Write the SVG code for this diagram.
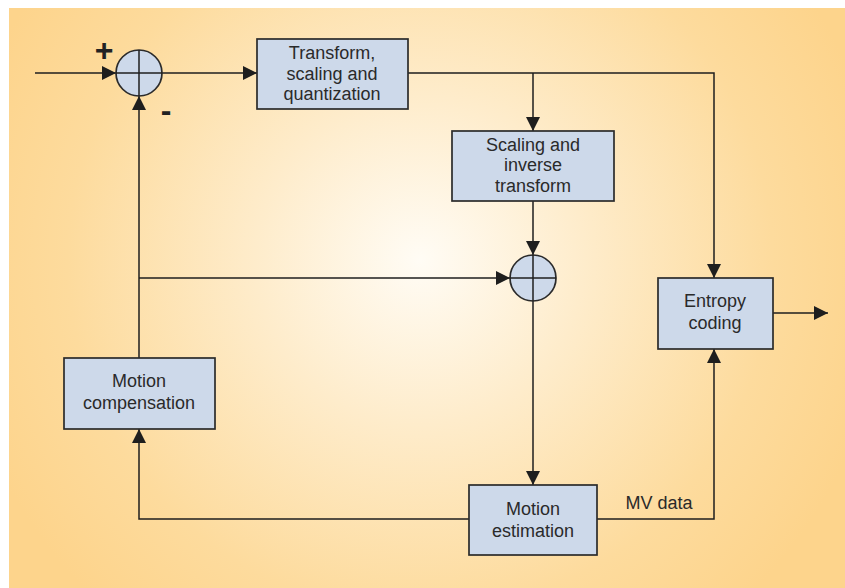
<svg xmlns="http://www.w3.org/2000/svg" width="845" height="588" viewBox="0 0 845 588">
<style>
.box{fill:#cdd9ea;stroke:#2b2b2b;stroke-width:1.7}
.sum{fill:#cdd9ea;stroke:#2b2b2b;stroke-width:1.7}
.x{stroke:#1e1e1e;stroke-width:1.5;fill:none}
.arr{stroke:#1e1e1e;stroke-width:1.5;fill:none;marker-end:url(#ah)}
text{font-family:"Liberation Sans",Arial,sans-serif;font-size:18px;fill:#2a2a2a;text-anchor:middle}
.sign{font-weight:bold;font-size:32px;fill:#222}
</style>
<defs>
<radialGradient id="bg" gradientUnits="userSpaceOnUse" cx="420" cy="260" r="470">
<stop offset="0" stop-color="#fffcf5"/>
<stop offset="0.35" stop-color="#feeccb"/>
<stop offset="0.75" stop-color="#fddb9d"/>
<stop offset="1" stop-color="#fdd48c"/>
</radialGradient>
<marker id="ah" markerUnits="userSpaceOnUse" markerWidth="15" markerHeight="15" refX="14" refY="7.5" orient="auto">
<path d="M0,0.5 L14,7.5 L0,14.5 z" fill="#1e1e1e"/>
</marker>
</defs>
<rect x="0" y="0" width="845" height="588" fill="#ffffff"/>
<rect x="9" y="8" width="836" height="580" fill="url(#bg)"/>

<g id="connectors">
<line class="arr" x1="35" y1="73" x2="116" y2="73"/>
<line class="arr" x1="162" y1="73" x2="257" y2="73"/>
<polyline class="arr" points="408,73 714,73 714,278"/>
<line class="arr" x1="533" y1="73" x2="533" y2="131"/>
<line class="arr" x1="533" y1="201" x2="533" y2="255"/>
<line class="arr" x1="139" y1="358" x2="139" y2="96"/>
<line class="arr" x1="139" y1="278" x2="510" y2="278"/>
<line class="arr" x1="533" y1="301" x2="533" y2="485"/>
<polyline class="arr" points="469,519 139,519 139,429"/>
<polyline class="arr" points="597,519 714,519 714,349"/>
<line class="arr" x1="773" y1="313" x2="828" y2="313"/>
<text x="659" y="509">MV data</text>
</g>

<g id="sum1">
<circle class="sum" cx="139" cy="73" r="23"/>
<line class="x" x1="116" y1="73" x2="162" y2="73"/>
<line class="x" x1="139" y1="50" x2="139" y2="96"/>
<text class="sign" x="104" y="61">+</text>
<text class="sign" x="166" y="121">-</text>
</g>

<g id="transform">
<rect class="box" x="257" y="39" width="151" height="70"/>
<text x="332" y="59">Transform,</text>
<text x="332" y="80">scaling and</text>
<text x="332" y="100">quantization</text>
</g>

<g id="scaling">
<rect class="box" x="452" y="131" width="162" height="70"/>
<text x="533" y="151">Scaling and</text>
<text x="533" y="171">inverse</text>
<text x="533" y="192">transform</text>
</g>

<g id="sum2">
<circle class="sum" cx="533" cy="278" r="23"/>
<line class="x" x1="510" y1="278" x2="556" y2="278"/>
<line class="x" x1="533" y1="255" x2="533" y2="301"/>
</g>

<g id="entropy">
<rect class="box" x="658" y="278" width="115" height="71"/>
<text x="715" y="307">Entropy</text>
<text x="715" y="329">coding</text>
</g>

<g id="motion-comp">
<rect class="box" x="64" y="358" width="151" height="71"/>
<text x="139" y="387">Motion</text>
<text x="139" y="409">compensation</text>
</g>

<g id="motion-est">
<rect class="box" x="469" y="485" width="128" height="70"/>
<text x="533" y="515">Motion</text>
<text x="533" y="537">estimation</text>
</g>
</svg>
